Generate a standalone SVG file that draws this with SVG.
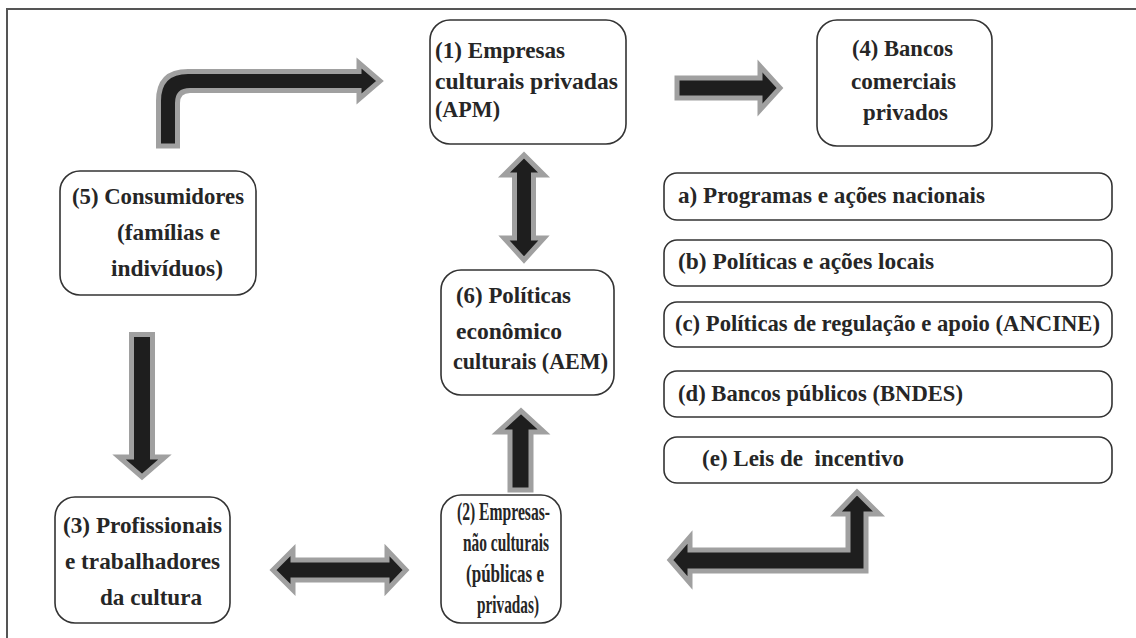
<svg xmlns="http://www.w3.org/2000/svg" width="1136" height="638" viewBox="0 0 1136 638">
<style>
.frame{fill:#fff;stroke:#555;stroke-width:2}
.box{fill:#fff;stroke:#333;stroke-width:1.6}
.t{font-family:"Liberation Serif","DejaVu Serif",serif;font-weight:bold;font-size:23px;fill:#262626}
.c{font-size:26px}
.ar{fill:#1e1e1e;stroke:#a0a0a0;stroke-width:5;stroke-linejoin:miter}
</style>
<rect x="0" y="0" width="1136" height="638" fill="#fff"/>
<rect class="frame" x="7" y="9" width="1140" height="640"/>

<g id="connectors">
  <path class="ar" d="M158.5,146 L158.5,101 Q158.5,71.5 188,71.5 L359,71.5 L359,63 L380,81 L359,99 L359,90.5 L190,90.5 Q177.5,90.5 177.5,103 L177.5,146 Z"/>
  <polygon class="ar" points="677,78 760,78 760,66 780,88 760,110 760,98 677,98"/>
  <polygon class="ar" points="514.5,175 504,175 524,155 544,175 533.5,175 533.5,238 544,238 524,260 504,238 514.5,238"/>
  <polygon class="ar" points="510,490 510,432 498,432 521,411 544,432 531,432 531,490"/>
  <polygon class="ar" points="131.5,334.5 152.5,334.5 152.5,457 165,457 142,477 119,457 131.5,457"/>
  <polygon class="ar" points="293,560 387,560 387,550 406,570 387,590 387,580 293,580 293,590 273,570 293,550"/>
  <polygon class="ar" points="690,550 848,550 848,514 836,514 857,492 879,514 866,514 866,571 690,571 690,583 670,560 690,537"/>
</g>

<g id="n1">
  <rect class="box" x="430" y="20" width="196" height="124" rx="20"/>
  <text class="t" x="435" y="58" textLength="130" lengthAdjust="spacingAndGlyphs">(1) Empresas</text>
  <text class="t" x="435" y="89" textLength="183" lengthAdjust="spacingAndGlyphs">culturais privadas</text>
  <text class="t" x="435" y="117" textLength="65" lengthAdjust="spacingAndGlyphs">(APM)</text>
</g>
<g id="n4">
  <rect class="box" x="817" y="20" width="175" height="126" rx="20"/>
  <text class="t" x="852" y="56" textLength="101" lengthAdjust="spacingAndGlyphs">(4) Bancos</text>
  <text class="t" x="851" y="89" textLength="105" lengthAdjust="spacingAndGlyphs">comerciais</text>
  <text class="t" x="863" y="120" textLength="85" lengthAdjust="spacingAndGlyphs">privados</text>
</g>
<g id="n5">
  <rect class="box" x="60" y="171" width="196" height="124" rx="20"/>
  <text class="t" x="72" y="204" textLength="172" lengthAdjust="spacingAndGlyphs">(5) Consumidores</text>
  <text class="t" x="117" y="240" textLength="103" lengthAdjust="spacingAndGlyphs">(famílias e</text>
  <text class="t" x="111" y="276" textLength="112" lengthAdjust="spacingAndGlyphs">indivíduos)</text>
</g>
<g id="n6">
  <rect class="box" x="441" y="270" width="173" height="125" rx="20"/>
  <text class="t" x="456" y="303" textLength="115" lengthAdjust="spacingAndGlyphs">(6) Políticas</text>
  <text class="t" x="456" y="339" textLength="106" lengthAdjust="spacingAndGlyphs">econômico</text>
  <text class="t" x="453" y="369" textLength="155" lengthAdjust="spacingAndGlyphs">culturais (AEM)</text>
</g>
<g id="n3">
  <rect class="box" x="55" y="497" width="175" height="126" rx="20"/>
  <text class="t" x="63" y="533" textLength="159" lengthAdjust="spacingAndGlyphs">(3) Profissionais</text>
  <text class="t" x="65" y="569" textLength="155" lengthAdjust="spacingAndGlyphs">e trabalhadores</text>
  <text class="t" x="100" y="605" textLength="102" lengthAdjust="spacingAndGlyphs">da cultura</text>
</g>
<g id="n2">
  <rect class="box" x="441" y="495" width="120" height="128" rx="20"/>
  <text class="t c" x="457" y="520" textLength="93" lengthAdjust="spacingAndGlyphs">(2) Empresas-</text>
  <text class="t c" x="463" y="551" textLength="86" lengthAdjust="spacingAndGlyphs">não culturais</text>
  <text class="t c" x="466" y="582" textLength="78" lengthAdjust="spacingAndGlyphs">(públicas e</text>
  <text class="t c" x="477" y="613" textLength="62" lengthAdjust="spacingAndGlyphs">privadas)</text>
</g>
<g id="na">
  <rect class="box" x="664" y="173" width="448" height="47" rx="13"/>
  <text class="t" x="678" y="203" textLength="307" lengthAdjust="spacingAndGlyphs">a) Programas e ações nacionais</text>
</g>
<g id="nb">
  <rect class="box" x="664" y="240" width="448" height="46" rx="13"/>
  <text class="t" x="678" y="269" textLength="256" lengthAdjust="spacingAndGlyphs">(b) Políticas e ações locais</text>
</g>
<g id="nc">
  <rect class="box" x="664" y="302" width="448" height="45" rx="13"/>
  <text class="t" x="675" y="331" textLength="425" lengthAdjust="spacingAndGlyphs">(c) Políticas de regulação e apoio (ANCINE)</text>
</g>
<g id="nd">
  <rect class="box" x="664" y="371" width="448" height="46" rx="13"/>
  <text class="t" x="678" y="401" textLength="285" lengthAdjust="spacingAndGlyphs">(d) Bancos públicos (BNDES)</text>
</g>
<g id="ne">
  <rect class="box" x="664" y="437" width="448" height="46" rx="13"/>
  <text class="t" x="702" y="466" textLength="202" lengthAdjust="spacingAndGlyphs">(e) Leis de&#160; incentivo</text>
</g>
</svg>
